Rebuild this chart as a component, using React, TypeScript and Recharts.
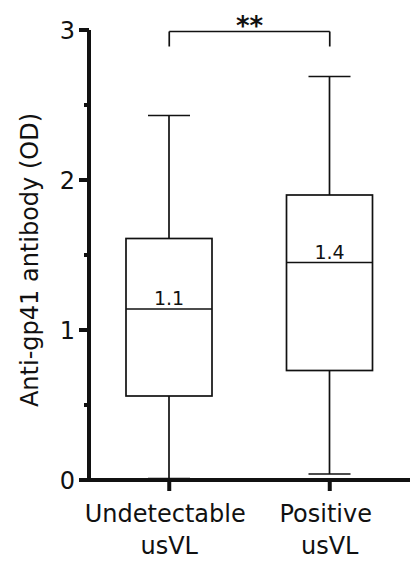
import { ComposedChart, Bar, XAxis, YAxis, ReferenceLine, Label } from 'recharts';

// groups and box stats
const categories = ['Undetectable usVL', 'Positive usVL'];
const categoryLines = [['Undetectable', 'usVL'], ['Positive', 'usVL']];
const mins = [0.01, 0.04];
const q1s = [0.56, 0.73];
const medians = [1.14, 1.45];
const q3s = [1.61, 1.9];
const maxs = [2.43, 2.69];
const medianLabels = ['1.1', '1.4'];
const yTicks = [0, 0.5, 1, 1.5, 2, 2.5, 3];
const sigLabel = '**';
const sigLevel = 2.99;
const sigDrop = 2.89;

const FONT = 'DejaVu Sans, sans-serif';
const INK = '#111';

const data = categories.map((name, i) => ({
  name,
  min: mins[i],
  q1: q1s[i],
  median: medians[i],
  q3: q3s[i],
  max: maxs[i],
  medianLabel: medianLabels[i],
}));

// box + whiskers drawn inside the [min, max] range bar
const BoxShape = (props: any) => {
  const { x, y, width, height, payload } = props;
  const top = Math.min(y, y + height);
  const h = Math.abs(height);
  const lo = payload.min;
  const hi = payload.max;
  const toY = (v: number) => top + ((hi - v) / (hi - lo)) * h;
  const cx = x + width / 2;
  const cap = 21;
  const yMax = toY(hi);
  const yQ3 = toY(payload.q3);
  const yMed = toY(payload.median);
  const yQ1 = toY(payload.q1);
  const yMin = toY(lo);
  return (
    <g stroke={INK} strokeWidth={1.7} fill="none">
      <line x1={cx} x2={cx} y1={yMax} y2={yQ3} />
      <line x1={cx} x2={cx} y1={yQ1} y2={yMin} />
      <line x1={cx - cap} x2={cx + cap} y1={yMax} y2={yMax} />
      <line x1={cx - cap} x2={cx + cap} y1={yMin} y2={yMin} />
      <rect x={x} y={yQ3} width={width} height={yQ1 - yQ3} fill="#fff" />
      <line x1={x} x2={x + width} y1={yMed} y2={yMed} />
      <text
        x={cx}
        y={yMed - 4}
        textAnchor="middle"
        stroke="none"
        fill={INK}
        fontSize={19}
        fontFamily={FONT}
      >
        {payload.medianLabel}
      </text>
    </g>
  );
};

const YTick = (props: any) => {
  const { x, y, payload } = props;
  const major = Number.isInteger(payload.value);
  return (
    <g>
      <line x1={x - (major ? 10 : 5)} x2={x} y1={y} y2={y} stroke={INK} strokeWidth={4} />
      {major && (
        <text x={x - 14} y={y + 9} textAnchor="end" fontSize={24} fontFamily={FONT} fill={INK}>
          {payload.value}
        </text>
      )}
    </g>
  );
};

const XTick = (props: any) => {
  const { x, y, index } = props;
  const lines = categoryLines[index] || [];
  return (
    <g>
      <line x1={x} x2={x} y1={y} y2={y + 11} stroke={INK} strokeWidth={4} />
      {lines.map((t, i) => (
        <text
          key={i}
          x={x + (i === 0 ? -4 : 0)}
          y={y + 42 + i * 32}
          textAnchor="middle"
          fontSize={24}
          fontFamily={FONT}
          fill={INK}
        >
          {t}
        </text>
      ))}
    </g>
  );
};

export default function App() {
  return (
    <div style={{ position: 'absolute', left: 0, top: 0, width: 410, height: 565, background: '#fff' }}>
      <ComposedChart width={410} height={565} data={data} margin={{ top: 30, right: 0, left: 0, bottom: 0 }}>
        <XAxis
          dataKey="name"
          height={85}
          tick={<XTick />}
          tickLine={false}
          tickSize={0}
          tickMargin={0}
          axisLine={{ stroke: INK, strokeWidth: 4 }}
          interval={0}
        />
        <YAxis
          type="number"
          domain={[0, 3]}
          ticks={yTicks}
          width={89}
          tick={<YTick />}
          tickLine={false}
          tickSize={0}
          tickMargin={0}
          axisLine={{ stroke: INK, strokeWidth: 4 }}
          interval={0}
        >
          <Label
            content={() => (
              <text
                x={38}
                y={260}
                transform="rotate(-90 38 260)"
                textAnchor="middle"
                fontSize={24}
                fontFamily={FONT}
                fill={INK}
              >
                Anti-gp41 antibody (OD)
              </text>
            )}
          />
        </YAxis>
        <Bar
          dataKey={(d: any) => [d.min, d.max]}
          barSize={86}
          shape={<BoxShape />}
          isAnimationActive={false}
        />
        <ReferenceLine
          segment={[
            { x: categories[0], y: sigLevel },
            { x: categories[1], y: sigLevel },
          ]}
          stroke={INK}
          strokeWidth={1.7}
          ifOverflow="visible"
          label={{ value: sigLabel, position: 'top', offset: -3, fontSize: 26, fontWeight: 'bold', fontFamily: FONT, fill: INK }}
        />
        <ReferenceLine
          segment={[
            { x: categories[0], y: sigLevel },
            { x: categories[0], y: sigDrop },
          ]}
          stroke={INK}
          strokeWidth={1.7}
          ifOverflow="visible"
        />
        <ReferenceLine
          segment={[
            { x: categories[1], y: sigLevel },
            { x: categories[1], y: sigDrop },
          ]}
          stroke={INK}
          strokeWidth={1.7}
          ifOverflow="visible"
        />
      </ComposedChart>
    </div>
  );
}
